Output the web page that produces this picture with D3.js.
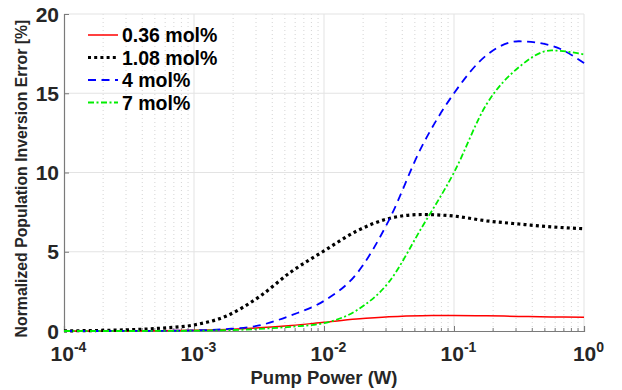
<!DOCTYPE html>
<html>
<head>
<meta charset="utf-8">
<script src="https://cdn.jsdelivr.net/npm/d3@7"></script>
<style>
  body { margin: 0; background: #fff; }
  svg { display: block; font-family: "Liberation Sans", Arial, sans-serif; }
</style>
</head>
<body>
<div id="chart"></div>
<script>
// log10 of pump power (W) where the curves were read
const logPower = [-4, -3.75, -3.5, -3.25, -3, -2.75, -2.5, -2.25, -2, -1.75, -1.5, -1.25, -1, -0.75, -0.5, -0.25, 0];

const seriesNames = ["0.36 mol%", "1.08 mol%", "4 mol%", "7 mol%"];
const err036 = [0, 0.002, 0.005, 0.015, 0.04, 0.1, 0.2, 0.35, 0.55, 0.75, 0.9, 0.97, 0.98, 0.96, 0.92, 0.89, 0.87];
const err108 = [0.01, 0.03, 0.08, 0.18, 0.38, 0.95, 2.15, 3.75, 5.05, 6.3, 7.1, 7.35, 7.25, 6.95, 6.75, 6.57, 6.45];
const err4   = [0, 0, 0.005, 0.01, 0.04, 0.12, 0.35, 1.0, 1.9, 3.6, 7.0, 11.6, 15.0, 17.4, 18.28, 18.0, 16.9];
const err7   = [0, 0, 0, 0.005, 0.02, 0.05, 0.13, 0.27, 0.5, 1.3, 3.1, 6.5, 10.0, 14.3, 16.65, 17.7, 17.45];

const xTicks = [1e-4, 1e-3, 1e-2, 1e-1, 1];
const yTicks = [0, 5, 10, 15, 20];

const W = 622, H = 390;
const m = { left: 64, right: 38, top: 14, bottom: 59 };

const svg = d3.select("#chart").append("svg")
  .attr("width", W).attr("height", H);

const x = d3.scaleLog().domain([1e-4, 1]).range([m.left, W - m.right]);
const y = d3.scaleLinear().domain([0, 20]).range([H - m.bottom, m.top]);

// minor vertical grid (dotted)
const minor = [];
for (let e = -4; e < 0; e++) {
  for (let k = 2; k <= 9; k++) minor.push(k * Math.pow(10, e));
}
svg.append("g").selectAll("line").data(minor).enter().append("line")
  .attr("x1", d => x(d)).attr("x2", d => x(d))
  .attr("y1", y(0)).attr("y2", y(20))
  .attr("stroke", "#d4d4d4").attr("stroke-width", 1)
  .attr("stroke-dasharray", "1,3");

// major grid
svg.append("g").selectAll("line").data(xTicks.slice(1)).enter().append("line")
  .attr("x1", d => x(d)).attr("x2", d => x(d))
  .attr("y1", y(0)).attr("y2", y(20))
  .attr("stroke", "#e3e3e3").attr("stroke-width", 1);
svg.append("g").selectAll("line").data(yTicks.slice(1)).enter().append("line")
  .attr("x1", x(1e-4)).attr("x2", x(1))
  .attr("y1", d => y(d)).attr("y2", d => y(d))
  .attr("stroke", "#e3e3e3").attr("stroke-width", 1);

// axes
const axisColor = "#7a7a7a";
const xAxis = svg.append("g").attr("transform", "translate(0," + y(0) + ")");
xAxis.call(d3.axisBottom(x).tickValues(xTicks).tickSize(-5).tickFormat(""));
xAxis.selectAll("g.minor").data(minor).enter().append("line")
  .attr("x1", d => x(d)).attr("x2", d => x(d))
  .attr("y1", 0).attr("y2", -3)
  .attr("stroke", axisColor);
xAxis.select(".domain").attr("stroke", axisColor).attr("stroke-width", 1.2);
xAxis.selectAll(".tick line").attr("stroke", axisColor);

xAxis.selectAll(".tick").append("text")
  .attr("y", 30).attr("x", 4).attr("text-anchor", "middle")
  .attr("fill", "#262626").attr("font-weight", "bold").attr("font-size", 21)
  .each(function (d) {
    const t = d3.select(this);
    t.append("tspan").text("10");
    t.append("tspan").attr("font-size", 14).attr("dy", -9)
      .text(String(Math.round(Math.log10(d))));
  });

const yAxis = svg.append("g").attr("transform", "translate(" + x(1e-4) + ",0)");
yAxis.call(d3.axisLeft(y).tickValues(yTicks).tickSize(-5).tickPadding(6));
yAxis.select(".domain").attr("stroke", axisColor).attr("stroke-width", 1.2);
yAxis.selectAll(".tick line").attr("stroke", axisColor);
yAxis.selectAll(".tick text")
  .attr("fill", "#262626").attr("font-weight", "bold").attr("font-size", 21)
  .attr("x", -5).attr("dy", "0.34em");

// titles
svg.append("text")
  .attr("x", (x(1e-4) + x(1)) / 2).attr("y", 384)
  .attr("text-anchor", "middle").attr("fill", "#262626")
  .attr("font-weight", "bold").attr("font-size", 18.5)
  .text("Pump Power (W)");
svg.append("text")
  .attr("transform", "translate(27," + (y(10) + 6) + ") rotate(-90)")
  .attr("text-anchor", "middle").attr("fill", "#262626")
  .attr("font-weight", "bold").attr("font-size", 15.8)
  .text("Normalized Population Inversion Error [%]");

// curves
const styles = [
  { color: "#ff0000", width: 1.5, dash: null },
  { color: "#000000", width: 3.2, dash: "3,3.2" },
  { color: "#0000ff", width: 1.8, dash: "8,5.5" },
  { color: "#00ee00", width: 1.8, dash: "6,2.5,2,2.5" }
];
const allSeries = [err036, err108, err4, err7];

const line = d3.line()
  .x((d, i) => x(Math.pow(10, logPower[i])))
  .y(d => y(d))
  .curve(d3.curveMonotoneX);

allSeries.forEach((vals, i) => {
  svg.append("path")
    .datum(vals)
    .attr("d", line)
    .attr("fill", "none")
    .attr("stroke", styles[i].color)
    .attr("stroke-width", styles[i].width)
    .attr("stroke-dasharray", styles[i].dash);
});

// legend
const legend = svg.append("g").attr("transform", "translate(88,35)");
seriesNames.forEach((name, i) => {
  const g = legend.append("g").attr("transform", "translate(0," + i * 22.5 + ")");
  g.append("line")
    .attr("x1", 0).attr("x2", 30).attr("y1", 0).attr("y2", 0)
    .attr("stroke", styles[i].color)
    .attr("stroke-width", styles[i].width)
    .attr("stroke-dasharray", styles[i].dash);
  g.append("text")
    .attr("x", 34).attr("y", 7)
    .attr("fill", "#000").attr("font-weight", "bold").attr("font-size", 19.5)
    .text(name);
});
</script>
</body>
</html>
